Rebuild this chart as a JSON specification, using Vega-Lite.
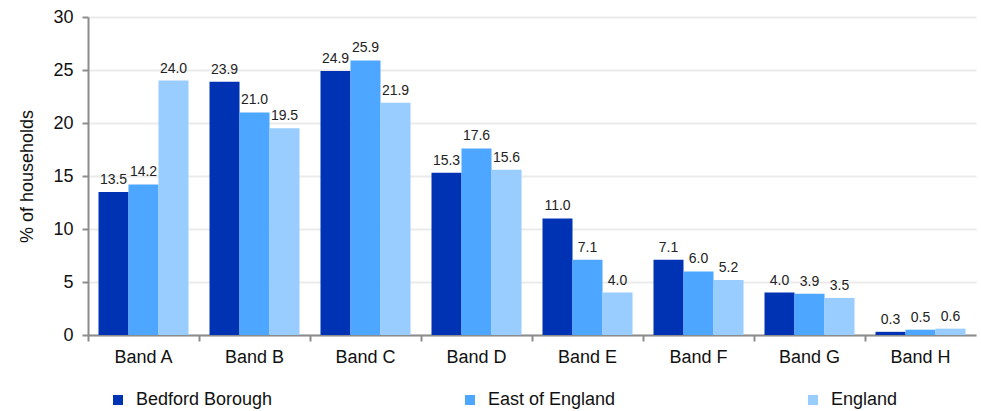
{
  "$schema": "https://vega.github.io/schema/vega-lite/v6.json",
  "width": 888,
  "height": 318,
  "autosize": {"type": "none"},
  "padding": {"left": 88, "top": 17, "right": 5, "bottom": 76},
  "background": "white",
  "config": {
    "font": "Liberation Sans",
    "view": {"stroke": null},
    "axis": {"labelFont": "Liberation Sans", "titleFont": "Liberation Sans"}
  },
  "data": {
    "values": [
      {"band": "Band A", "area": "Bedford Borough", "value": 13.5},
      {"band": "Band A", "area": "East of England", "value": 14.2},
      {"band": "Band A", "area": "England", "value": 24.0},
      {"band": "Band B", "area": "Bedford Borough", "value": 23.9},
      {"band": "Band B", "area": "East of England", "value": 21.0},
      {"band": "Band B", "area": "England", "value": 19.5},
      {"band": "Band C", "area": "Bedford Borough", "value": 24.9},
      {"band": "Band C", "area": "East of England", "value": 25.9},
      {"band": "Band C", "area": "England", "value": 21.9},
      {"band": "Band D", "area": "Bedford Borough", "value": 15.3},
      {"band": "Band D", "area": "East of England", "value": 17.6},
      {"band": "Band D", "area": "England", "value": 15.6},
      {"band": "Band E", "area": "Bedford Borough", "value": 11.0},
      {"band": "Band E", "area": "East of England", "value": 7.1},
      {"band": "Band E", "area": "England", "value": 4.0},
      {"band": "Band F", "area": "Bedford Borough", "value": 7.1},
      {"band": "Band F", "area": "East of England", "value": 6.0},
      {"band": "Band F", "area": "England", "value": 5.2},
      {"band": "Band G", "area": "Bedford Borough", "value": 4.0},
      {"band": "Band G", "area": "East of England", "value": 3.9},
      {"band": "Band G", "area": "England", "value": 3.5},
      {"band": "Band H", "area": "Bedford Borough", "value": 0.3},
      {"band": "Band H", "area": "East of England", "value": 0.5},
      {"band": "Band H", "area": "England", "value": 0.6}
    ]
  },
  "encoding": {
    "x": {
      "field": "band", "type": "nominal", "title": null,
      "scale": {"paddingInner": 0, "paddingOuter": 0},
      "axis": {
        "labelAngle": 0, "labelFontSize": 18, "labelColor": "#111", "labelPadding": 7,
        "domainColor": "#8c8c8c", "domainWidth": 2, "tickColor": "#8c8c8c", "tickWidth": 2, "tickSize": 6,
        "bandPosition": 0, "grid": false
      }
    },
    "xOffset": {"field": "area", "type": "nominal", "scale": {"paddingInner": 0, "paddingOuter": 0.35}},
    "y": {
      "field": "value", "type": "quantitative", "title": "% of households",
      "scale": {"domain": [0, 30]},
      "axis": {
        "values": [0, 5, 10, 15, 20, 25, 30],
        "labelFontSize": 18, "labelColor": "#111", "labelPadding": 9,
        "titleFontSize": 18, "titleFontWeight": "normal", "titleColor": "#111", "titlePadding": 16,
        "domainColor": "#8c8c8c", "domainWidth": 2, "tickColor": "#8c8c8c", "tickWidth": 2, "tickSize": 6,
        "gridColor": "#ebebeb", "gridWidth": 2
      }
    }
  },
  "layer": [
    {
      "mark": {"type": "bar"},
      "encoding": {
        "color": {
          "field": "area", "type": "nominal",
          "scale": {"domain": ["Bedford Borough", "East of England", "England"], "range": ["#0033b3", "#4da6ff", "#99ccff"]},
          "legend": {
            "title": null, "orient": "none", "legendX": 21, "legendY": 374,
            "direction": "horizontal", "columns": 3, "columnPadding": 188,
            "symbolType": "square", "symbolSize": 100, "symbolStrokeWidth": 0,
            "labelFontSize": 18, "labelColor": "#111", "labelOffset": 9, "labelLimit": 300
          }
        }
      }
    },
    {
      "mark": {"type": "text", "baseline": "bottom", "dy": -5, "fontSize": 14, "color": "#222"},
      "encoding": {"text": {"field": "value", "type": "quantitative", "format": ".1f"}}
    }
  ]
}
